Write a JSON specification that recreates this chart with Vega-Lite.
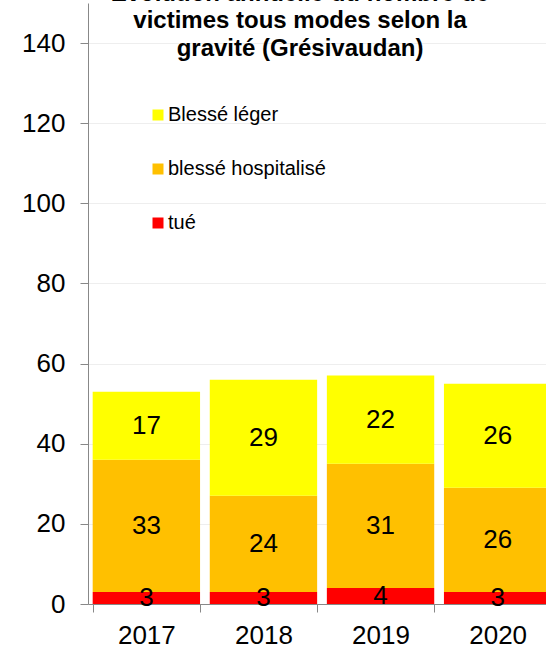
{
  "$schema": "https://vega.github.io/schema/vega-lite/v6.json",
  "autosize": {"type": "none"},
  "width": 458,
  "height": 601,
  "padding": {"left": 88, "top": 3, "right": 0, "bottom": 44},
  "background": "white",
  "config": {
    "font": "Liberation Sans",
    "view": {"stroke": null}
  },
  "title": {
    "text": ["Évolution annuelle du nombre de", "victimes tous modes selon la", "gravité (Grésivaudan)"],
    "font": "Liberation Sans",
    "fontSize": 24,
    "fontWeight": "bold",
    "color": "black",
    "lineHeight": 27.7,
    "anchor": "middle",
    "offset": 0,
    "dx": -17,
    "dy": 58
  },
  "data": {
    "values": [
      {"annee": "2017", "gravite": "tué", "n": 3},
      {"annee": "2017", "gravite": "blessé hospitalisé", "n": 33},
      {"annee": "2017", "gravite": "Blessé léger", "n": 17},
      {"annee": "2018", "gravite": "tué", "n": 3},
      {"annee": "2018", "gravite": "blessé hospitalisé", "n": 24},
      {"annee": "2018", "gravite": "Blessé léger", "n": 29},
      {"annee": "2019", "gravite": "tué", "n": 4},
      {"annee": "2019", "gravite": "blessé hospitalisé", "n": 31},
      {"annee": "2019", "gravite": "Blessé léger", "n": 22},
      {"annee": "2020", "gravite": "tué", "n": 3},
      {"annee": "2020", "gravite": "blessé hospitalisé", "n": 26},
      {"annee": "2020", "gravite": "Blessé léger", "n": 26}
    ]
  },
  "encoding": {
    "x": {
      "field": "annee",
      "type": "nominal",
      "title": null,
      "scale": {"range": [0, 468], "paddingInner": 0.083, "paddingOuter": 0.04},
      "axis": {
        "labelAngle": 0,
        "labelFontSize": 26,
        "labelColor": "black",
        "labelPadding": 10,
        "tickBand": "extent",
        "tickSize": 8,
        "tickColor": "#888888",
        "domainColor": "#888888",
        "grid": false
      }
    },
    "y": {
      "field": "n",
      "type": "quantitative",
      "stack": "zero",
      "title": null,
      "scale": {"domain": [0, 150], "nice": false},
      "axis": {
        "values": [0, 20, 40, 60, 80, 100, 120, 140],
        "labelFontSize": 26,
        "labelColor": "black",
        "labelPadding": 15,
        "tickSize": 8,
        "tickColor": "#888888",
        "domainColor": "#888888",
        "gridColor": "#eeeeee",
        "grid": true
      }
    },
    "order": {"field": "gravite", "sort": "descending"}
  },
  "layer": [
    {
      "mark": {"type": "bar"},
      "encoding": {
        "color": {
          "field": "gravite",
          "type": "nominal",
          "scale": {
            "domain": ["Blessé léger", "blessé hospitalisé", "tué"],
            "range": ["#FFFF00", "#FFC000", "#FF0000"]
          },
          "legend": {
            "title": null,
            "orient": "none",
            "legendX": 60,
            "legendY": 102,
            "symbolType": "square",
            "symbolSize": 121,
            "symbolStrokeWidth": 0,
            "labelFontSize": 20,
            "labelColor": "black",
            "labelOffset": 0,
            "rowPadding": 34,
            "padding": 0
          }
        }
      }
    },
    {
      "mark": {"type": "text", "fontSize": 26, "color": "black", "baseline": "middle"},
      "encoding": {
        "y": {"field": "n", "type": "quantitative", "stack": "zero", "bandPosition": 0.5},
        "text": {"field": "n", "type": "quantitative"}
      }
    }
  ]
}
